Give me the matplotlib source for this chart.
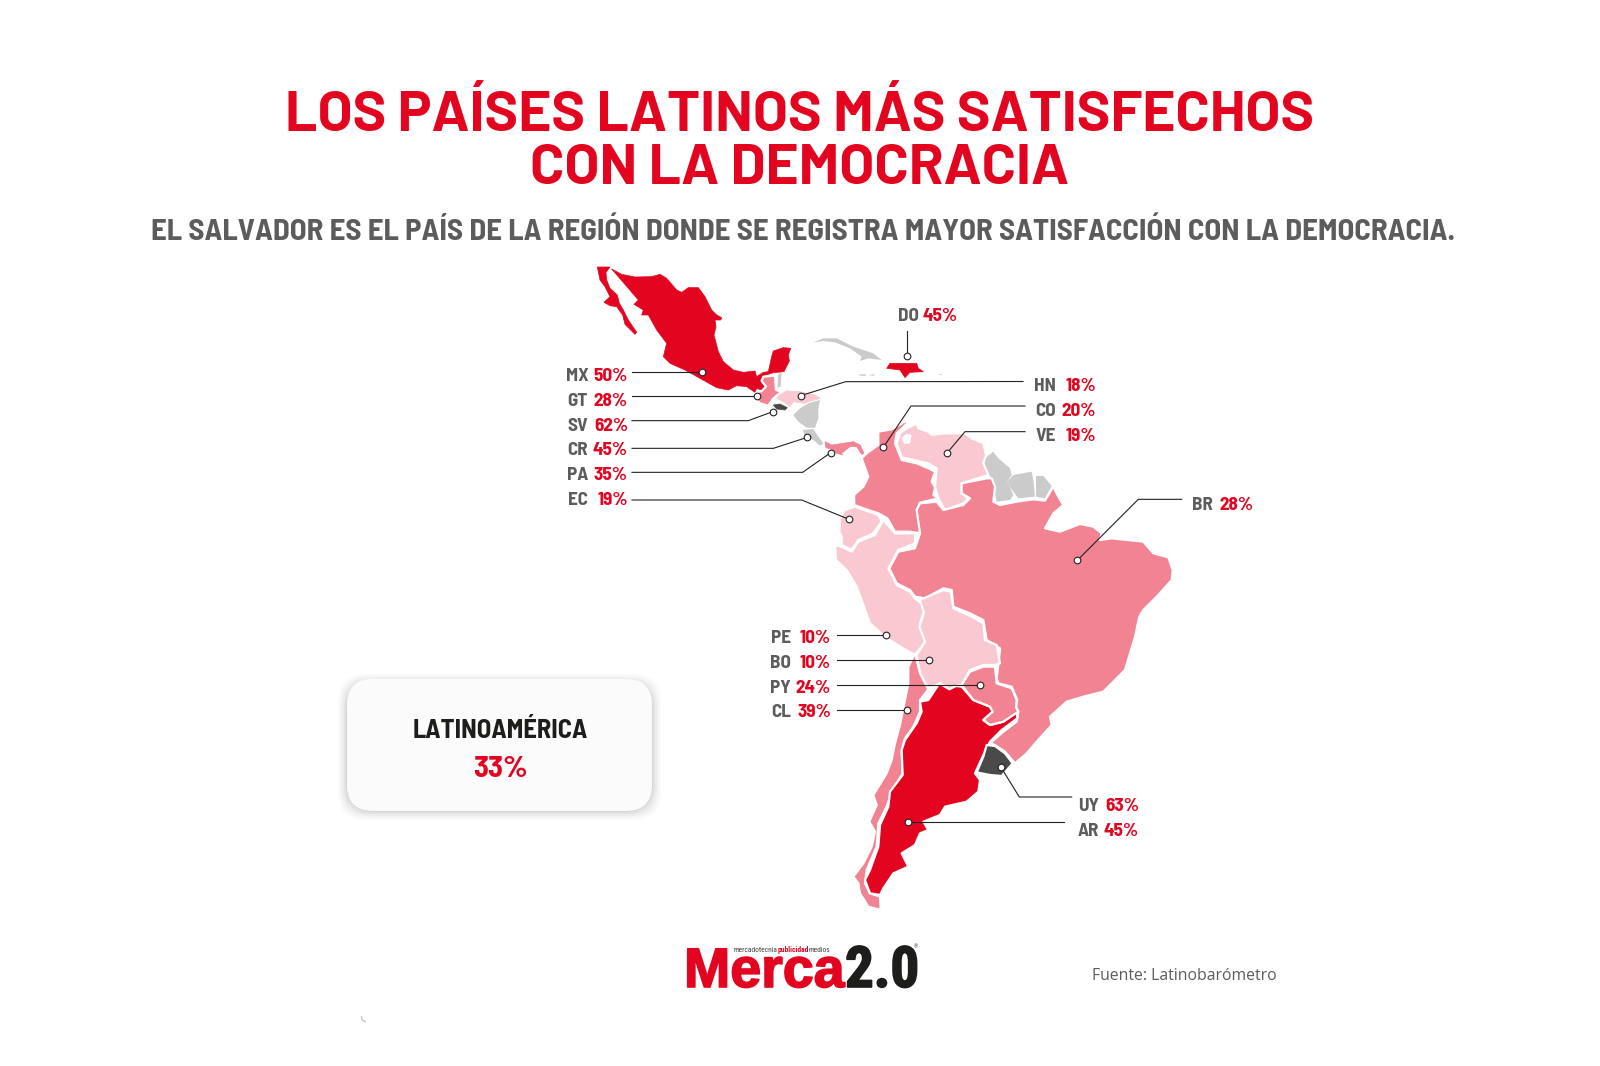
import matplotlib
matplotlib.use("Agg")
import matplotlib.pyplot as plt
import matplotlib.patheffects as pe
from matplotlib.patches import Polygon, FancyBboxPatch, Arc

RED = "#e30520"
PINK = "#f28392"
LIGHT = "#f9c8d1"
DARK = "#4a4a4a"
GRAY = "#cbcbcb"
TEXTGRAY = "#5c5c5c"
TITLE_FONT = ["Barlow", "Roboto", "DejaVu Sans"]
LABEL_FONT = ["Barlow Semi Condensed", "Roboto Condensed", "Roboto", "DejaVu Sans"]
LOGO_NARROW = ["Roboto Condensed", "Roboto", "DejaVu Sans"]

# survey values
codes = ["MX", "GT", "SV", "CR", "PA", "EC", "DO", "HN", "CO", "VE", "BR", "PE", "BO", "PY", "CL", "UY", "AR"]
values = [50, 28, 62, 45, 35, 19, 45, 18, 20, 19, 28, 10, 10, 24, 39, 63, 45]
region_name = "LATINOAMÉRICA"
region_value = 33

def z1(pts):
    return [(560 + x / 3, 255 + y / 3) for x, y in pts]

def z2(pts):
    return [(800 + x / 3, 400 + y / 3) for x, y in pts]

def z3(pts):
    return [(820 + x / 3, 650 + y / 3) for x, y in pts]

baja = z1([(112,36),(150,36),(138,52),(140,75),(150,100),(172,120),(178,145),(190,165),(205,195),(230,232),(225,238),(195,208),(188,180),(170,155),(150,152),(132,142),(150,125),(135,95),(120,75)])
mexico = z1([(155,42),(185,58),(225,66),(275,65),(300,58),(320,70),(350,105),(365,112),(385,98),(415,98),(435,125),(455,165),(470,180),(485,188),(482,195),(465,195),(468,215),(462,240),(475,290),(490,320),(520,345),(550,352),(585,348),(590,365),(610,352),(625,350),(635,305),(640,288),(670,278),(692,280),(685,300),(688,318),(672,350),(640,353),(612,362),(600,375),(615,395),(605,405),(590,400),(585,412),(560,395),(530,392),(505,405),(470,398),(420,370),(375,345),(330,325),(310,305),(320,265),(290,225),(265,180),(245,180),(250,165),(222,148),(235,135),(205,100)])
guatemala = z1([(610,365),(645,362),(648,405),(665,410),(640,430),(625,452),(600,445),(580,425),(590,412),(605,408),(618,395),(605,378)])
belize = z1([(655,358),(665,352),(662,395),(652,398)])
honduras = z1([(658,420),(680,408),(720,410),(765,420),(780,430),(745,440),(735,445),(700,440),(690,455),(670,440),(650,430)])
salvador = z1([(640,450),(660,447),(682,458),(675,465),(650,462)])
nicaragua = z1([(720,460),(745,445),(780,435),(775,460),(775,490),(765,518),(740,518),(715,500),(700,480)])
costa_rica = z1([(728,525),(760,522),(775,545),(790,565),(780,572),(760,555),(735,545)])
panama = z1([(795,560),(815,570),(850,565),(880,560),(900,570),(912,595),(905,598),(890,575),(870,575),(845,595),(848,600),(830,595),(820,585),(798,578)])
cuba = z1([(760,262),(790,250),(830,250),(880,275),(940,295),(965,315),(925,310),(900,318),(905,305),(870,280),(825,262),(790,258)])
jamaica = z1([(895,358),(920,358),(915,363),(900,362)])
islet_a = z1([(925,360),(945,358),(940,363)])
puerto_rico = z1([(1130,358),(1148,358),(1145,361)])
dominican = z1([(980,340),(990,325),(1030,325),(1070,325),(1075,340),(1090,350),(1050,352),(1035,368),(1020,345)])

colombia = z2([(235,95),(275,88),(320,62),(322,70),(290,100),(285,130),(305,180),(350,190),(385,205),(405,215),(395,245),(405,262),(400,285),(415,295),(360,308),(350,330),(360,350),(360,400),(330,395),(285,395),(262,355),(235,340),(190,325),(163,315),(162,285),(190,260),(205,230),(185,175),(200,160),(235,135)])
venezuela = z2([(320,85),(350,70),(355,85),(385,95),(395,105),(430,100),(495,100),(515,115),(550,130),(558,165),(550,190),(565,225),(485,250),(485,280),(505,295),(490,310),(435,330),(415,295),(405,260),(410,205),(385,190),(340,180),(305,172),(290,130),(300,100)])
lake = z2([(305,115),(320,100),(335,105),(330,130),(312,132)])
guyana = z2([(580,155),(595,175),(630,205),(635,225),(622,245),(640,285),(630,300),(590,305),(582,265),(572,230),(550,205),(555,175)])
suriname = z2([(640,225),(695,215),(700,240),(705,290),(655,295),(630,262),(622,245)])
guiana_fr = z2([(708,228),(730,228),(755,258),(735,295),(708,290)])
brazil = (z2([(485,250),(560,235),(575,235),(585,260),(580,305),(600,315),(650,305),(700,298),(735,302),(760,260),(775,290),(790,315),(760,340),(735,385),(780,395),(840,372),(880,380),(905,400),(900,420),(935,415),(1030,425),(1060,460),(1105,472),(1118,510),(1115,540),(1070,590),(1030,630),(1018,650),(1005,710),(990,760),(975,810)])
          + z3([(885,90),(850,125),(790,140),(740,155),(690,200),(695,225),(650,275),(620,310),(585,340),(555,305),(525,285),(510,280),(550,245),(590,215),(595,185),(588,170),(592,150),(575,110),(535,100),(530,85),(540,0)])
          + z2([(600,745),(560,720),(550,660),(510,640),(460,620),(455,570),(430,565),(375,595),(345,590),(330,570),(290,550),(268,505),(295,455),(345,445),(360,400),(350,330),(360,310),(410,305),(430,330),(490,315),(510,295),(485,280)]))
ecuador = z2([(120,355),(135,330),(165,320),(235,345),(245,365),(220,400),(175,420),(155,450),(125,435),(125,410),(118,395)])
peru = z2([(105,435),(125,440),(155,455),(175,425),(225,405),(250,360),(285,400),(345,400),(345,430),(295,450),(265,505),(290,555),(330,575),(345,595),(375,620),(360,670),(380,720),(345,765),(310,745),(260,715),(210,670),(170,560),(140,510),(108,480)])
bolivia = (z2([(360,600),(430,570),(452,575),(460,625),(515,650),(550,670),(555,720),(590,735),(600,790)])
           + z3([(525,45),(490,45),(450,60),(425,105),(410,108),(388,118),(360,100),(325,115),(300,70),(290,15)])
           + z2([(375,725),(358,680),(372,640)]))
chile = z3([(285,10),(300,70),(325,118),(300,150),(300,185),(280,230),(255,265),(245,300),(248,370),(215,425),(200,470),(175,520),(170,590),(140,660),(135,700),(150,730),(180,740),(182,780),(145,770),(120,730),(115,700),(100,680),(130,640),(155,590),(165,545),(148,515),(170,465),(160,435),(200,370),(215,330),(225,280),(240,225),(255,150),(265,100),(265,50)])
argentina = z3([(325,150),(358,100),(388,118),(408,108),(425,110),(460,150),(510,170),(518,185),(490,210),(510,225),(550,215),(590,185),(592,205),(545,240),(510,275),(490,315),(465,370),(480,390),(475,425),(440,455),(375,470),(360,495),(310,515),(325,540),(300,550),(285,585),(245,610),(265,650),(220,670),(190,715),(180,735),(150,730),(135,690),(150,660),(175,590),(180,525),(205,470),(210,425),(248,375),(245,300),(255,270),(290,220),(305,185),(300,155)])
paraguay = z3([(425,105),(450,65),(490,50),(525,50),(530,100),(575,115),(590,150),(588,172),(595,185),(550,215),(510,225),(490,210),(518,185),(510,170),(460,150)])
uruguay = z3([(500,285),(525,288),(555,310),(578,340),(545,378),(510,375),(470,367),(490,320)])

# thin coastal countries get no white outline, it would eat them away
coastal_shapes = {"MX": [baja, mexico], "HN": [honduras], "SV": [salvador], "PA": [panama], "DO": [dominican]}
country_shapes = {"GT": [guatemala], "CO": [colombia], "VE": [venezuela], "BR": [brazil], "EC": [ecuador],
                  "PE": [peru], "BO": [bolivia], "CL": [chile], "AR": [argentina], "PY": [paraguay],
                  "UY": [uruguay]}
# Costa Rica is left grey on the source map
gray_shapes = [belize, nicaragua, costa_rica, cuba, jamaica, islet_a, puerto_rico, guyana, suriname, guiana_fr]

# leader lines: label side first, marker last
leaders = {
    "MX": z1([(216,352),(427,352)]),
    "GT": z1([(216,422),(592,422)]),
    "SV": z1([(216,497),(565,497),(638,470)]),
    "CR": z1([(216,580),(640,580),(742,547)]),
    "PA": z1([(216,652),(728,652),(812,593)]),
    "EC": z1([(216,735),(725,735),(867,793)]),
    "DO": z1([(1042,228),(1042,303)]),
    "HN": [(1023,381.5)] + z1([(857,380),(722,422)]),
    "CO": z2([(675,18),(333,18),(250,142)]),
    "VE": z2([(675,95),(495,95),(442,158)]),
    "BR": z2([(1145,298),(1015,298),(832,481)]),
    "PE": z2([(110,706),(257,706)]),
    "BO": z2([(110,781),(388,781)]),
    "PY": z3([(50,106),(481,106)]),
    "CL": z3([(50,180),(262,180)]),
    "UY": z3([(755,441),(598,441),(543,352)]),
    "AR": z3([(733,517),(263,517)]),
}

# right edge of the code, right edge of the percentage, text centre
label_pos = {
    "MX": (589, 628, 374), "GT": (588, 628, 399), "SV": (588, 628, 424), "CR": (588, 628, 448),
    "PA": (588, 628, 473), "EC": (588, 628, 498), "DO": (919, 958, 314), "HN": (1056, 1096, 384),
    "CO": (1056, 1096, 409), "VE": (1056, 1096, 434), "BR": (1213, 1253, 503), "PE": (791, 831, 636),
    "BO": (791, 831, 661), "PY": (791, 831, 686), "CL": (791, 831, 710), "UY": (1099, 1139, 804),
    "AR": (1099, 1139, 829),
}

def map_color(v):
    if v >= 60:
        return DARK
    if v >= 45:
        return RED
    if v >= 20:
        return PINK
    return LIGHT

fig = plt.figure(figsize=(16, 10.66), dpi=100, facecolor="white")
ax = fig.add_axes([0, 0, 1, 1])
ax.set_xlim(0, 1600)
ax.set_ylim(1066, 0)
ax.axis("off")

ax.text(800, 131, "LOS PAÍSES LATINOS MÁS SATISFECHOS", ha="center", va="baseline", color=RED,
        family=TITLE_FONT, weight="bold", fontsize=40.8)
ax.text(800, 184, "CON LA DEMOCRACIA", ha="center", va="baseline", color=RED,
        family=TITLE_FONT, weight="bold", fontsize=40.8)
ax.text(803, 240, "EL SALVADOR ES EL PAÍS DE LA REGIÓN DONDE SE REGISTRA MAYOR SATISFACCIÓN CON LA DEMOCRACIA.",
        ha="center", va="baseline", color=TEXTGRAY, family=LABEL_FONT, weight="bold", fontsize=22.3)

for pts in gray_shapes:
    ax.add_patch(Polygon(pts, closed=True, fc=GRAY, ec="none", zorder=2))
for code, shapes in coastal_shapes.items():
    col = map_color(values[codes.index(code)])
    for pts in shapes:
        ax.add_patch(Polygon(pts, closed=True, fc=col, ec=col, lw=0.5, zorder=3))
for code, shapes in country_shapes.items():
    col = map_color(values[codes.index(code)])
    for pts in shapes:
        ax.add_patch(Polygon(pts, closed=True, fc=col, ec="white", lw=1.6, joinstyle="round", zorder=3))
ax.add_patch(Polygon(lake, closed=True, fc="white", ec="none", zorder=3))

for code, val in zip(codes, values):
    pts = leaders[code]
    ax.plot([p[0] for p in pts], [p[1] for p in pts], color="#222222", lw=0.8, zorder=5)
    ax.plot(pts[-1][0], pts[-1][1], "o", ms=4.8, mfc="white", mec="#222222", mew=0.8, zorder=6)
    cx, px, y = label_pos[code]
    ax.text(cx, y + 6.7, code, ha="right", va="baseline", color=TEXTGRAY, family=LABEL_FONT, weight="bold", fontsize=13.8)
    ax.text(px, y + 6.7, f"{val}%", ha="right", va="baseline", color=RED, family=LABEL_FONT, weight="bold", fontsize=13.8)

# box with a soft shadow
for grow, alpha in [(9, 0.02), (7, 0.025), (5, 0.03), (3, 0.04), (1, 0.06)]:
    ax.add_patch(FancyBboxPatch((347 - grow, 683 - grow), 305 + 2 * grow, 128 + 2 * grow,
                                boxstyle="round,pad=0,rounding_size=28", fc="black", ec="none",
                                alpha=alpha, zorder=7))
ax.add_patch(FancyBboxPatch((347, 679), 305, 132, boxstyle="round,pad=0,rounding_size=26",
                            fc="#fbfbfb", ec="none", zorder=8))
ax.text(500, 738, region_name, ha="center", va="baseline", color="#1d1d1b", family=LABEL_FONT,
        weight="bold", fontsize=19.1, zorder=9)
ax.text(500, 777, f"{region_value}%", ha="center", va="baseline", color=RED, family=LABEL_FONT,
        weight="bold", fontsize=22.3, zorder=9)

# logo, a thin stroke makes the type heavier
ax.text(684, 987, "Merca", ha="left", va="baseline", color=RED, family="Liberation Sans",
        weight="bold", fontsize=40, zorder=9,
        path_effects=[pe.withStroke(linewidth=1.2, foreground=RED)])
ax.text(845, 987, "2.0", ha="left", va="baseline", color="#1d1d1b", family=LOGO_NARROW,
        weight="bold", fontsize=41, zorder=9,
        path_effects=[pe.withStroke(linewidth=1.2, foreground="#1d1d1b")])
renderer = fig.canvas.get_renderer()
x_tag = 733
for part, col, wt in [("mercadotecnia", "#444444", "normal"), ("publicidad", RED, "bold"), ("medios", "#444444", "normal")]:
    t = ax.text(x_tag, 952, part, ha="left", va="baseline", color=col, family=LOGO_NARROW, weight=wt, fontsize=5.4, zorder=9)
    bb = t.get_window_extent(renderer)
    x_tag += bb.width + 0.3
ax.text(914, 948, "®", ha="left", va="baseline", color="#444444", family=LOGO_NARROW, fontsize=4, zorder=9)

ax.text(1092, 976, "Fuente: Latinobarómetro", ha="left", va="center", color=TEXTGRAY,
        family="Open Sans", fontsize=11.3)

# stray mark near the bottom edge
ax.add_patch(Arc((366, 1017), 9, 9, theta1=90, theta2=190, color="#c4c4c4", lw=1))

fig.savefig("out.png", dpi=100, facecolor="white")
